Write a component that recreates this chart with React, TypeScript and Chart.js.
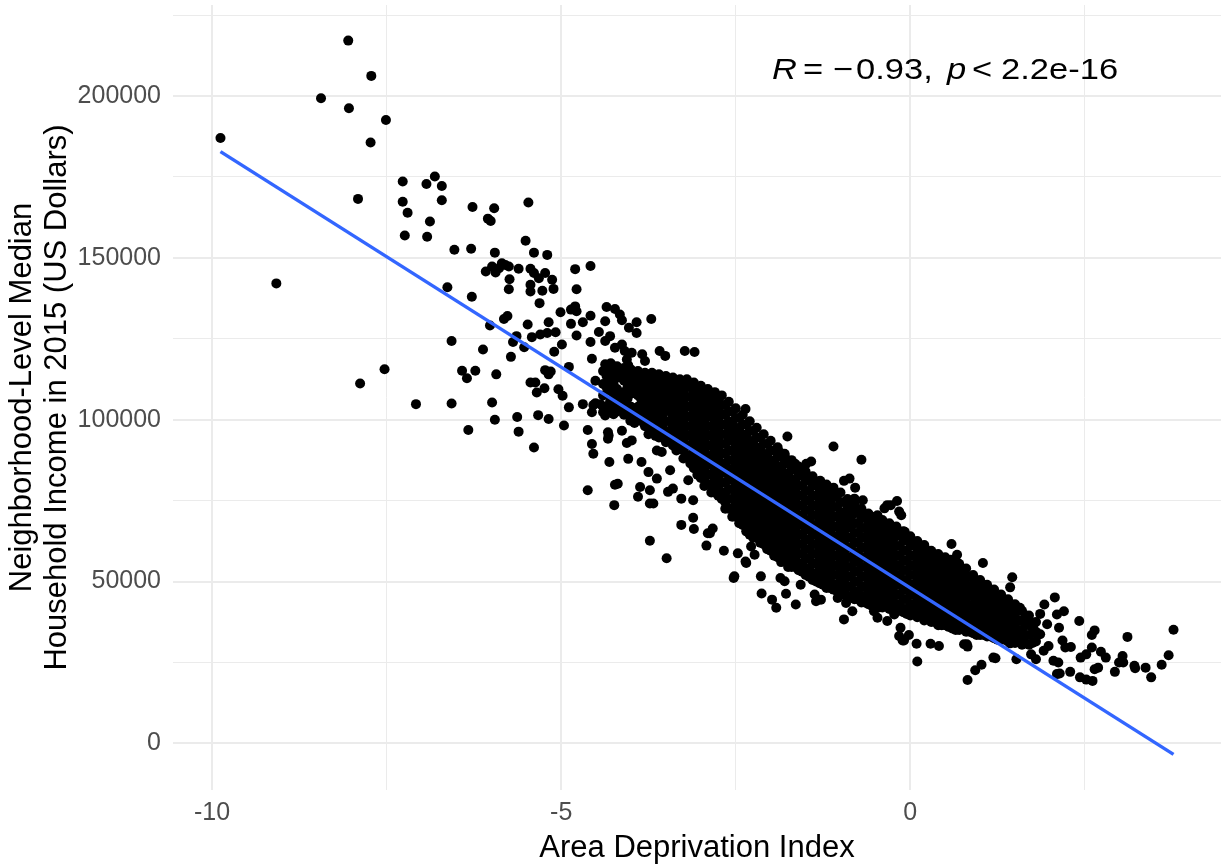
import { useEffect, useRef } from "react";
import { Chart, registerables } from "chart.js";

Chart.register(...registerables);

// Area Deprivation Index (x) vs median household income in thousands of US dollars (y)
const outlierPoints: [number, number][] = [
  [-9.88, 187.0], [-9.08, 142.1], [-8.44, 199.3], [-8.05, 217.1], [-8.04, 196.2], [-7.91, 168.2],
  [-7.72, 206.2], [-7.73, 185.6], [-7.51, 192.6], [-7.53, 115.6], [-7.88, 111.2], [-7.08, 104.8],
];

const upperLeftPoints: [number, number][] = [
  [-7.27, 173.6], [-6.81, 175.1], [-6.93, 172.8], [-6.71, 172.2], [-7.27, 167.3], [-6.71, 167.8],
  [-7.2, 163.9], [-6.27, 165.7], [-5.96, 165.3], [-5.47, 167.1], [-6.05, 162.1], [-6.01, 161.4],
  [-6.88, 161.2], [-7.24, 156.9], [-6.92, 156.5], [-6.53, 152.5], [-6.29, 152.8], [-5.51, 155.3],
  [-5.95, 151.6], [-5.39, 151.6], [-5.2, 150.9], [-6.63, 140.9], [-6.28, 138.0], [-6.08, 145.8],
  [-5.99, 147.3], [-5.89, 146.8], [-5.8, 147.8], [-5.75, 147.3], [-5.94, 145.5], [-5.61, 146.6],
  [-5.44, 146.6], [-5.39, 145.3], [-5.32, 143.7], [-5.23, 145.3], [-5.13, 143.2], [-5.74, 143.4],
  [-5.75, 140.3], [-5.44, 141.7], [-5.44, 139.6], [-5.27, 139.8], [-5.11, 140.4], [-5.31, 136.0],
  [-4.8, 146.5], [-4.58, 147.5], [-4.78, 140.3], [-5.85, 148.3],
];

const midLeftPoints: [number, number][] = [
  [-5.77, 132.0], [-5.82, 131.1], [-6.02, 129.1], [-5.48, 129.4], [-5.18, 130.1], [-5.01, 133.2],
  [-4.86, 134.0], [-4.8, 135.0], [-4.78, 133.5], [-4.58, 132.1], [-4.86, 129.6], [-4.69, 130.1],
  [-4.78, 126.0], [-6.57, 124.3], [-6.12, 121.7], [-5.64, 125.8], [-5.69, 124.0], [-5.53, 122.4],
  [-5.42, 125.5], [-5.3, 126.3], [-5.2, 126.8], [-5.08, 127.0], [-4.99, 123.2], [-5.1, 121.0],
  [-5.72, 119.4], [-4.58, 124.0], [-4.56, 118.8], [-6.42, 115.1], [-6.23, 115.1], [-6.35, 112.8],
  [-5.93, 114.0], [-5.23, 115.3], [-5.15, 114.9], [-4.89, 116.3], [-5.44, 111.5], [-5.37, 111.5],
  [-5.35, 108.4], [-5.24, 109.7], [-5.04, 109.4], [-4.98, 107.4], [-4.89, 103.8], [-4.69, 104.8],
  [-4.54, 104.5], [-4.51, 112.0], [-5.18, 114.0], [-5.99, 105.3], [-5.95, 100.0], [-5.63, 100.8],
  [-5.61, 96.3], [-5.33, 101.4], [-5.18, 100.2], [-4.96, 98.2], [-4.62, 96.8], [-6.33, 96.8],
  [-5.39, 91.4], [-4.56, 92.5], [-6.57, 105.0], [-4.51, 105.1], [-4.44, 104.8], [-4.4, 102.3],
  [-4.56, 102.3], [-4.25, 101.7], [-4.54, 89.5], [-4.31, 86.9], [-4.32, 95.1], [-4.13, 96.6],
  [-4.01, 99.7], [-4.62, 78.2], [-4.24, 73.6], [-4.23, 79.9], [-4.19, 80.2], [-3.87, 79.2],
  [-3.9, 76.2], [-3.73, 78.2], [-3.73, 62.6], [-3.49, 57.2], [-3.28, 67.5], [-3.11, 69.7],
  [-3.1, 66.2], [-2.92, 61.1], [-2.87, 64.9], [-2.83, 66.4], [-2.67, 59.5], [-2.52, 51.6],
  [-2.14, 51.6], [-2.35, 55.7], [-2.47, 58.7], [-2.28, 60.8], [-2.23, 58.3], [-3.75, 83.8],
  [-3.63, 81.8], [-3.44, 84.4], [-3.4, 78.7], [-3.18, 81.3], [-3.11, 75.1], [-3.28, 75.6],
  [-3.47, 77.7], [-4.04, 87.9], [-3.85, 86.9], [-3.63, 90.5], [-3.56, 90.0], [-4.06, 92.8],
  [-3.99, 93.6], [-4.33, 96.1], [-4.33, 94.1], [-4.37, 101.3],
];

const upperEdgePoints: [number, number][] = [
  [-4.35, 134.8], [-4.23, 134.2], [-4.16, 132.5], [-4.13, 130.7], [-4.03, 128.4], [-3.92, 130.1],
  [-3.92, 126.8], [-3.71, 131.1], [-4.37, 130.4], [-4.46, 127.1], [-4.37, 124.3], [-4.3, 125.8],
  [-4.23, 122.2], [-4.13, 123.2], [-4.09, 121.2], [-3.99, 120.7], [-4.04, 116.8], [-4.37, 117.1],
  [-4.29, 117.4], [-4.25, 116.1], [-4.18, 113.5], [-4.06, 118.6], [-3.84, 120.2], [-3.8, 118.1],
  [-3.59, 121.2], [-3.51, 119.7], [-3.23, 121.2], [-3.09, 120.9], [-2.36, 103.3], [-1.76, 94.8],
  [-1.1, 91.7], [-0.7, 87.6], [-1.42, 87.1], [-1.49, 86.4], [-1.65, 86.4], [-1.86, 89.8],
  [-1.8, 89.0], [-1.29, 81.1], [-1.1, 77.7], [-0.95, 81.1], [-0.87, 81.8], [-0.79, 79.0],
  [-0.8, 75.6], [-0.68, 75.1], [-0.19, 74.9], [-0.28, 73.6], [-0.37, 72.6], [-0.13, 70.5],
  [-0.16, 71.6], [-0.47, 70.5], [-0.08, 65.4], [0.59, 61.6], [1.04, 55.7], [0.03, 62.3],
  [0.2, 61.3], [0.67, 58.3], [0.58, 56.7], [0.77, 53.1], [-0.33, 73.6], [1.46, 51.3],
  [1.43, 48.2], [1.37, 43.9], [1.41, 41.9], [1.57, 41.9],
];

const lowerEdgePoints: [number, number][] = [
  [-3.73, 74.1], [-3.68, 74.1], [-2.9, 64.9], [-2.53, 51.1], [-2.36, 56.2], [-2.13, 46.3],
  [-1.98, 44.4], [-1.92, 41.9], [-1.78, 46.2], [-1.64, 42.9], [-1.86, 51.1], [-1.8, 50.1],
  [-1.57, 49.0], [-1.37, 46.0], [-1.35, 43.9], [-1.28, 44.4], [-0.95, 38.3], [-1.04, 44.9],
  [-0.92, 43.4], [-0.83, 40.8], [-0.52, 40.8], [-0.47, 38.8], [-0.14, 35.7], [-0.16, 33.2],
  [-0.09, 31.8], [0.81, 30.6], [-0.33, 37.8], [-0.23, 39.8],
];

const tailPoints: [number, number][] = [
  [2.07, 45.1], [1.92, 42.9], [1.86, 40.0], [2.2, 40.8], [2.1, 39.8], [2.42, 37.8], [1.96, 36.8],
  [2.13, 35.7], [2.64, 34.9], [2.6, 33.5], [3.11, 32.9], [3.77, 35.1], [2.18, 31.8], [2.22, 29.6],
  [2.3, 29.8], [2.6, 29.6], [2.73, 28.3], [2.8, 26.5], [2.44, 26.5], [2.52, 27.5], [3.04, 27.0],
  [3.05, 25.0], [2.99, 25.0], [3.7, 27.2], [3.6, 24.3], [3.21, 24.0], [3.22, 23.2], [3.37, 23.4],
  [2.64, 22.9], [2.69, 23.4], [2.93, 22.1], [3.45, 20.4], [2.29, 22.1], [2.1, 21.4], [2.14, 21.6],
  [2.43, 20.4], [2.52, 19.7], [2.61, 19.3], [2.05, 25.5], [2.12, 25.0], [1.91, 28.6], [1.8, 26.0],
  [1.73, 27.5], [1.52, 26.0], [1.22, 26.3], [0.1, 25.3], [0.82, 19.6], [0.93, 22.6], [1.02, 24.3],
  [0.09, 30.8], [0.29, 30.8], [0.41, 30.1], [-0.11, 31.8], [-0.02, 33.5], [0.77, 30.6], [0.82, 29.9],
  [1.43, 30.9], [1.48, 32.6], [1.57, 34.9], [1.69, 38.8], [1.77, 36.9], [1.86, 33.7], [1.98, 30.1],
  [1.19, 26.5],
];

// dense core of the cloud: [ADI, incomes (thousands)]
const coreColumns: [number, number[]][] = [
  [-4.4, [115, 111, 107.5, 104]],
  [-4.3, [116, 112.5, 109, 105.5, 102.5]],
  [-4.2, [116.5, 113, 109.5, 106, 102.5]],
  [-4.1, [116, 112, 108.5, 105, 101.5]],
  [-4.0, [115.5, 111.5, 108, 104, 100.5]],
  [-3.9, [115, 111, 107.5, 104, 100.5]],
  [-3.8, [114.5, 111, 107.5, 104, 101, 98]],
  [-3.7, [114.5, 110.5, 107, 103.5, 100, 96.5]],
  [-3.6, [114, 110.5, 107, 103.5, 100, 96.5, 94.5]],
  [-3.5, [113.5, 110, 106.5, 103, 99.5, 96, 93]],
  [-3.4, [113, 110, 107, 104, 101, 98, 95, 92]],
  [-3.3, [112.5, 109.5, 106.5, 103.5, 100.5, 97.5, 94.5, 91.5]],
  [-3.2, [112.5, 110, 107, 104, 101, 98, 95, 92, 89]],
  [-3.1, [111.5, 108.5, 105.5, 102.5, 99.5, 96.5, 93.5, 90.5, 87.5, 85]],
  [-3.0, [110.5, 107.5, 104.5, 101.5, 98.5, 95.5, 92.5, 89.5, 86.5, 83.5, 82]],
  [-2.9, [109.5, 106.5, 103.5, 101, 98, 95, 92, 89, 86, 83, 80]],
  [-2.8, [108.5, 105.5, 102.5, 99.5, 96.5, 93.5, 90.5, 87.5, 84.5, 81.5, 78.5, 77.5]],
  [-2.7, [107.5, 104.5, 101.5, 98.5, 95.5, 92.5, 89.5, 86.5, 83.5, 80.5, 77.5, 75.5]],
  [-2.6, [105.5, 102.5, 99.5, 96.5, 93.5, 90.5, 87.5, 84.5, 81.5, 78.5, 75.5, 72.5]],
  [-2.5, [103.5, 100.5, 97.5, 95, 92, 89, 86, 83, 80, 77, 74, 71, 70]],
  [-2.4, [101.5, 98.5, 95.5, 92.5, 89.5, 86.5, 83.5, 80.5, 77.5, 74.5, 71.5, 68.5, 67.5]],
  [-2.3, [99.5, 96.5, 93.5, 90.5, 87.5, 84.5, 81.5, 78.5, 75.5, 72.5, 69.5, 66.5, 64.5]],
  [-2.2, [97.5, 94.5, 91.5, 88.5, 85.5, 82.5, 79.5, 76.5, 73.5, 70.5, 67.5, 64.5, 63.5]],
  [-2.1, [95.5, 92.5, 89.5, 86.5, 83.5, 80.5, 77.5, 74.5, 71.5, 68.5, 65.5, 62.5, 61.5]],
  [-2.0, [93.5, 90.5, 87.5, 84.5, 81.5, 78.5, 75.5, 72.5, 69.5, 66.5, 63.5, 60.5, 59.5]],
  [-1.9, [91.5, 88.5, 85.5, 82.5, 79.5, 76.5, 73.5, 70.5, 67.5, 64.5, 61.5, 58.5, 57.5]],
  [-1.8, [89.5, 86.5, 83.5, 80.5, 77.5, 74.5, 71.5, 68.5, 65.5, 62.5, 59.5, 56.5]],
  [-1.7, [87.5, 84.5, 81.5, 78.5, 75.5, 72.5, 69.5, 66.5, 63.5, 60.5, 57.5, 54.5]],
  [-1.6, [85.5, 82.5, 79.5, 76.5, 73.5, 70.5, 67.5, 64.5, 61.5, 58.5, 55.5, 53.5]],
  [-1.5, [84, 81, 78, 75, 72, 69, 66, 63, 60, 57, 54, 52]],
  [-1.4, [82.5, 79.5, 76.5, 73.5, 70.5, 67.5, 64.5, 61.5, 58.5, 55.5, 52.5, 50.5]],
  [-1.3, [81, 78, 75, 72, 69, 66, 63, 60, 57, 54, 51, 49.5]],
  [-1.2, [80, 77, 74, 71, 68, 65, 62, 59, 56, 53, 50, 48]],
  [-1.1, [79, 76, 73, 70, 67, 64, 61, 58, 55, 52, 49, 47.5]],
  [-1.0, [77.5, 74.5, 71.5, 68.5, 65.5, 62.5, 59.5, 56.5, 53.5, 50.5, 47.5, 46.5]],
  [-0.9, [75.5, 72.5, 69.5, 66.5, 63.5, 60.5, 57.5, 54.5, 51.5, 48.5, 45.5]],
  [-0.8, [74, 71, 68, 65, 62, 59, 56, 53, 50, 47, 44.5]],
  [-0.7, [72.5, 69.5, 66.5, 63.5, 60.5, 57.5, 54.5, 51.5, 48.5, 45.5, 43.5]],
  [-0.6, [71, 68, 65, 62, 59, 56, 53, 50, 47, 44, 43]],
  [-0.5, [70, 67, 64, 61, 58, 55, 52, 49, 46, 43, 42.5]],
  [-0.4, [69, 66, 63, 60, 57, 54, 51, 48, 45, 42]],
  [-0.3, [68, 65, 62, 59, 56, 53, 50, 47, 44, 41.5]],
  [-0.2, [67, 64, 61, 58, 55, 52, 49, 46, 43, 41.5]],
  [-0.1, [65.5, 62.5, 59.5, 56.5, 53.5, 50.5, 47.5, 44.5, 41.5, 40.5]],
  [0.0, [64, 61, 58, 55, 52, 49, 46, 43, 40, 39.5]],
  [0.1, [62.5, 59.5, 56.5, 53.5, 50.5, 47.5, 44.5, 41.5, 39]],
  [0.2, [61, 58, 55, 52, 49, 46, 43, 40, 38]],
  [0.3, [59.5, 56.5, 53.5, 50.5, 47.5, 44.5, 41.5, 38.5, 37.5]],
  [0.4, [58.5, 55.5, 52.5, 49.5, 46.5, 43.5, 40.5, 37.5, 36.5]],
  [0.5, [57.5, 54.5, 51.5, 48.5, 45.5, 42.5, 39.5, 36.5]],
  [0.6, [56.5, 53.5, 50.5, 47.5, 44.5, 41.5, 38.5, 35.5]],
  [0.7, [55.5, 52.5, 49.5, 46.5, 43.5, 40.5, 37.5, 35]],
  [0.8, [54, 51, 48, 45, 42, 39, 36, 34.5]],
  [0.9, [52, 49, 46, 43, 40, 37, 34]],
  [1.0, [50.5, 47.5, 44.5, 41.5, 38.5, 35.5, 33.5]],
  [1.1, [49, 46, 43, 40, 37, 34, 33]],
  [1.2, [47.5, 44.5, 41.5, 38.5, 35.5, 32.5]],
  [1.3, [46, 43, 40, 37, 34, 32]],
  [1.4, [44.5, 41.5, 38.5, 35.5, 32.5, 31.5]],
  [1.5, [43, 40, 37, 34, 31]],
  [1.6, [41, 38, 35, 32, 30.5]],
  [1.7, [39.5, 36.5, 33.5, 30.5]],
  [1.8, [37.5, 34.5, 31.5]],
];

// second, staggered layer of the dense core
const coreColumnsB: [number, number[]][] = [
  [-4.35, [113.5, 110, 104]],
  [-4.25, [114.5, 111, 107.5, 104]],
  [-4.15, [114.5, 107, 103.5]],
  [-4.05, [114, 110, 106.5, 102.5]],
  [-3.95, [113.5, 109.5, 102.5, 99]],
  [-3.85, [113, 109.5, 106, 102.5, 99.5]],
  [-3.75, [113, 109, 105.5, 102, 98.5, 95.5]],
  [-3.65, [112.5, 109, 105.5, 102, 98.5, 95]],
  [-3.55, [112, 108.5, 105, 101.5, 98, 94.5]],
  [-3.45, [111.5, 108.5, 105.5, 102.5, 99.5, 96.5, 93.5]],
  [-3.35, [111, 108, 105, 102, 99, 96, 93, 90.5]],
  [-3.25, [111, 108.5, 105.5, 102.5, 99.5, 96.5, 93.5, 90.5, 88]],
  [-3.15, [110, 107, 104, 101, 98, 95, 92, 89, 86.5]],
  [-3.05, [109, 106, 103, 100, 97, 94, 91, 88, 85, 83]],
  [-2.95, [108, 105, 102, 99.5, 96.5, 93.5, 90.5, 87.5, 84.5, 81.5, 79.5]],
  [-2.85, [107, 104, 101, 98, 95, 92, 89, 86, 83, 80, 77.5]],
  [-2.75, [106, 103, 100, 97, 94, 91, 88, 85, 82, 79, 76.5]],
  [-2.65, [104.5, 101.5, 98.5, 95.5, 92.5, 89.5, 86.5, 83.5, 80.5, 77.5, 74.5, 72.5]],
  [-2.55, [102.5, 99, 96, 93.5, 90.5, 87.5, 84.5, 81.5, 78.5, 75.5, 72.5, 70]],
  [-2.45, [100.5, 97, 94, 91, 88, 85, 82, 79, 76, 73, 70, 68]],
  [-2.35, [98.5, 95, 92, 89, 86, 83, 80, 77, 74, 71, 68, 65.5]],
  [-2.25, [96.5, 93, 90, 87, 84, 81, 78, 75, 72, 69, 66, 63.5]],
  [-2.15, [94.5, 91, 88, 85, 82, 79, 76, 73, 70, 67, 64, 62]],
  [-2.05, [92.5, 89, 86, 83, 80, 77, 74, 71, 68, 65, 62, 60]],
  [-1.95, [90.5, 87, 84, 81, 78, 75, 72, 69, 66, 63, 60, 58]],
  [-1.85, [88.5, 85, 82, 79, 76, 73, 70, 67, 64, 61, 58, 56]],
  [-1.75, [86.5, 83, 80, 77, 74, 71, 68, 65, 62, 59, 56, 54.5]],
  [-1.65, [84.5, 81, 78, 75, 72, 69, 66, 63, 60, 57, 54.5]],
  [-1.55, [83, 79.5, 76.5, 73.5, 70.5, 67.5, 64.5, 61.5, 58.5, 55.5, 53]],
  [-1.45, [81.5, 78, 75, 72, 69, 66, 63, 60, 57, 54, 51.5]],
  [-1.35, [80, 76.5, 73.5, 70.5, 67.5, 64.5, 61.5, 58.5, 55.5, 52.5, 50]],
  [-1.25, [79, 75.5, 72.5, 69.5, 66.5, 63.5, 60.5, 57.5, 54.5, 51.5, 49]],
  [-1.15, [78, 74.5, 71.5, 68.5, 65.5, 62.5, 59.5, 56.5, 53.5, 50.5, 48]],
  [-1.05, [76.5, 73, 70, 67, 64, 61, 58, 55, 52, 49, 47]],
  [-0.95, [74.5, 71, 68, 65, 62, 59, 56, 53, 50, 47, 46]],
  [-0.85, [73, 70, 67, 63.5, 60.5, 57.5, 54.5, 51.5, 48.5, 45.5]],
  [-0.75, [71.5, 68, 65, 62, 59, 56, 53, 50, 47, 44.5]],
  [-0.65, [70, 66.5, 63.5, 60.5, 57.5, 54.5, 51.5, 48.5, 45.5, 43.5]],
  [-0.55, [69, 65.5, 62.5, 59.5, 56.5, 53.5, 50.5, 47.5, 44.5, 42.5]],
  [-0.45, [68, 64.5, 61.5, 58.5, 55.5, 52.5, 49.5, 46.5, 43.5, 42]],
  [-0.35, [67, 63.5, 60.5, 57.5, 54.5, 51.5, 48.5, 45.5, 43]],
  [-0.25, [66, 62.5, 59.5, 56.5, 53.5, 50.5, 47.5, 44.5, 42.5]],
  [-0.15, [64.5, 61, 58, 55, 52, 49, 46, 43, 41]],
  [-0.05, [63, 59.5, 56.5, 53.5, 50.5, 47.5, 44.5, 41.5, 40]],
  [0.05, [61.5, 58, 55, 52, 49, 46, 43, 40.5]],
  [0.15, [60, 57, 54, 51, 48, 45, 42, 39.5]],
  [0.25, [58.5, 55.5, 52.5, 49.5, 46.5, 43.5, 40.5, 38.5]],
  [0.35, [57.5, 54.5, 51.5, 48.5, 45.5, 42.5, 39.5, 37.5]],
  [0.45, [56.5, 53.5, 50.5, 47.5, 44.5, 41.5, 38.5, 36.5]],
  [0.55, [55.5, 52.5, 49.5, 46.5, 43.5, 40.5, 37.5, 36]],
  [0.65, [54.5, 51.5, 48.5, 45.5, 42.5, 39.5, 36.5, 35]],
  [0.75, [53, 50, 47, 44, 41, 38, 35.5]],
  [0.85, [51.5, 48.5, 45.5, 42.5, 39.5, 36.5, 34.5]],
  [0.95, [50, 47, 44, 41, 38, 35, 33.5]],
  [1.05, [48.5, 45.5, 42.5, 39.5, 36.5, 33.5]],
  [1.15, [47, 44, 41, 38, 35, 33]],
  [1.25, [45.5, 42.5, 39.5, 36.5, 33.5, 32]],
  [1.35, [44, 41, 38, 35, 32]],
  [1.45, [42.5, 39.5, 36.5, 33.5, 31.5]],
  [1.55, [41, 38, 35, 32]],
  [1.65, [39.5, 36.5, 33.5, 31]],
  [1.75, [37, 34, 31]],
];

// linear fit line endpoints
const fitAdi = [-9.88, 3.77];
const fitIncomeK = [182.8, -3.4];

const xTickValues = [-10, -7.5, -5, -2.5, 0, 2.5];
const xTickLabels = ["-10", "", "-5", "", "0", ""];
const yTickValues = [0, 25000, 50000, 75000, 100000, 125000, 150000, 175000, 200000, 225000];
const yTickLabels = ["0", "", "50000", "", "100000", "", "150000", "", "200000", ""];

const xTitle = "Area Deprivation Index";
const yTitleLines = ["Neighborhood-Level Median", "Household Income in 2015 (US Dollars)"];

const annotationAnchor = [-1.98, 205100];
const annotationParts = [
  { text: "R", italic: true, dx: 0 },
  { text: "=", italic: false, dx: 31 },
  { text: "\u2212", italic: false, dx: 61 },
  { text: "0.93,", italic: false, dx: 84 },
  { text: "p", italic: true, dx: 175 },
  { text: "<", italic: false, dx: 200 },
  { text: "2.2e-16", italic: false, dx: 229 },
];

const FONT = "'Liberation Sans', Arial, Helvetica, sans-serif";

const annotationPlugin = {
  id: "corLabel",
  afterDatasetsDraw(chart: any) {
    const { ctx, scales } = chart;
    const x0 = scales.x.getPixelForValue(annotationAnchor[0]);
    const y0 = scales.y.getPixelForValue(annotationAnchor[1]);
    ctx.save();
    ctx.fillStyle = "#000000";
    ctx.textAlign = "left";
    ctx.textBaseline = "alphabetic";
    for (const part of annotationParts) {
      ctx.save();
      ctx.translate(x0 + part.dx, y0);
      ctx.scale(1.15, 1);
      ctx.font = `${part.italic ? "italic " : ""}30px ${FONT}`;
      ctx.fillText(part.text, 0, 0);
      ctx.restore();
    }
    ctx.restore();
  },
};

export default function App() {
  const canvasRef = useRef<HTMLCanvasElement | null>(null);

  useEffect(() => {
    document.body.style.margin = "0";
    const canvas = canvasRef.current;
    if (!canvas) return;

    const pointGroups = [outlierPoints, upperLeftPoints, midLeftPoints, upperEdgePoints, lowerEdgePoints, tailPoints];
    const scatterData: { x: number; y: number }[] = [];
    pointGroups.forEach((g) => g.forEach(([x, yk]) => scatterData.push({ x, y: yk * 1000 })));
    [coreColumns, coreColumnsB].forEach((cols) =>
      cols.forEach(([x, ys]) => ys.forEach((yk) => scatterData.push({ x, y: yk * 1000 })))
    );

    const fitData = fitAdi.map((x, i) => ({ x, y: fitIncomeK[i] * 1000 }));

    const chart = new Chart(canvas, {
      type: "scatter",
      data: {
        datasets: [
          {
            type: "line",
            data: fitData,
            borderColor: "#3366FF",
            borderWidth: 3.5,
            pointRadius: 0,
            fill: false,
            order: 1,
          } as any,
          {
            data: scatterData,
            backgroundColor: "#000000",
            pointRadius: 5,
            pointHoverRadius: 5,
            borderWidth: 0,
            order: 2,
          },
        ],
      },
      options: {
        animation: false,
        responsive: false,
        devicePixelRatio: 1,
        events: [],
        layout: { padding: { left: 0, right: 1, top: 0, bottom: 0 } },
        plugins: { legend: { display: false }, tooltip: { enabled: false } },
        scales: {
          x: {
            type: "linear",
            min: -10.56,
            max: 4.45,
            afterBuildTicks: (s: any) => {
              s.ticks = xTickValues.map((v) => ({ value: v }));
            },
            afterFit: (s: any) => {
              s.height = 77;
              s.paddingLeft = 0;
              s.paddingRight = 0;
            },
            border: { display: false },
            grid: {
              color: "#EBEBEB",
              lineWidth: (c: any) => (xTickLabels[c.index] ? 2 : 1),
              drawTicks: false,
            },
            ticks: {
              callback: (_v: any, i: number) => xTickLabels[i],
              font: { family: FONT, size: 25 },
              color: "#4D4D4D",
              padding: 8,
              maxRotation: 0,
              autoSkip: false,
            },
            title: {
              display: true,
              text: xTitle,
              font: { family: FONT, size: 31, lineHeight: 1.13 },
              color: "#000000",
              padding: { top: 0, bottom: 1.5 },
            },
          },
          y: {
            type: "linear",
            min: -14400,
            max: 228100,
            afterBuildTicks: (s: any) => {
              s.ticks = yTickValues.map((v) => ({ value: v }));
            },
            afterFit: (s: any) => {
              s.width = 173;
              s.paddingTop = 0;
              s.paddingBottom = 0;
            },
            border: { display: false },
            grid: {
              color: "#EBEBEB",
              lineWidth: (c: any) => (yTickLabels[c.index] ? 2 : 1),
              drawTicks: false,
            },
            ticks: {
              callback: (_v: any, i: number) => yTickLabels[i],
              font: { family: FONT, size: 25 },
              color: "#4D4D4D",
              padding: 12,
              autoSkip: false,
            },
            title: {
              display: true,
              text: yTitleLines,
              font: { family: FONT, size: 31, lineHeight: 1.13 },
              color: "#000000",
              padding: { top: 4.5, bottom: 0 },
            },
          },
        },
      } as any,
      plugins: [annotationPlugin],
    });

    return () => chart.destroy();
  }, []);

  return (
    <div style={{ position: "absolute", left: 0, top: 0, width: 1226, height: 867, background: "#ffffff" }}>
      <canvas ref={canvasRef} width={1226} height={867} style={{ display: "block" }} />
    </div>
  );
}
